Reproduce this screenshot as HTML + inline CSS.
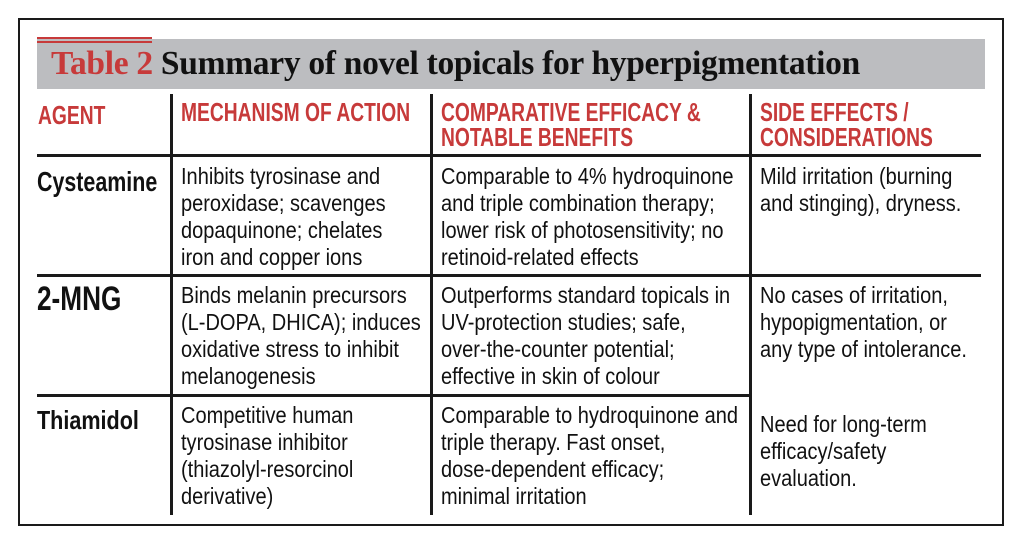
<!DOCTYPE html>
<html><head><meta charset="utf-8">
<style>
html,body{margin:0;padding:0;background:#fff;}
#page{position:relative;width:1024px;height:540px;overflow:hidden;background:#fff;}
.abs{position:absolute;}
.hl{position:absolute;background:#1a1a1a;height:3px;}
.vl{position:absolute;background:#1a1a1a;width:3px;}
.t{position:absolute;white-space:nowrap;font-family:"Liberation Sans",sans-serif;font-size:23px;line-height:27px;color:#111;transform-origin:0 0;transform:scaleX(0.87);}
.h{position:absolute;white-space:nowrap;font-family:"Liberation Sans",sans-serif;font-weight:bold;font-size:26px;line-height:25px;color:#c73a3a;transform-origin:0 0;transform:scaleX(0.74);}
.ag{position:absolute;white-space:nowrap;font-family:"Liberation Sans",sans-serif;font-weight:bold;color:#111;transform-origin:0 0;}
</style></head>
<body>
<div id="page">
  <div class="abs" style="left:18px;top:18px;width:982px;height:504px;border:2px solid #1a1a1a;"></div>
  <div class="abs" style="left:37px;top:39px;width:948px;height:50px;background:#bcbdc0;"></div>
  <div class="abs" style="left:37px;top:37px;width:115px;height:2px;background:#c73a3a;"></div>
  <div class="abs" style="left:37px;top:41px;width:115px;height:2px;background:#c73a3a;"></div>
  <div class="abs" style="left:51px;top:44px;white-space:nowrap;font-family:'Liberation Serif',serif;font-weight:bold;font-size:33.5px;line-height:40px;color:#111;letter-spacing:-0.3px;"><span style="color:#c73a3a">Table 2</span> Summary of novel topicals for hyperpigmentation</div>

  <div class="hl" style="left:37px;top:154px;width:944px;"></div>
  <div class="hl" style="left:37px;top:274px;width:944px;"></div>
  <div class="hl" style="left:37px;top:394px;width:714px;"></div>
  <div class="vl" style="left:170px;top:94px;height:421px;"></div>
  <div class="vl" style="left:430px;top:94px;height:421px;"></div>
  <div class="vl" style="left:749px;top:94px;height:421px;"></div>

  <div class="h" style="left:38px;top:103px;">AGENT</div>
  <div class="h" style="left:181px;top:100px;">MECHANISM OF ACTION</div>
  <div class="h" style="left:441px;top:100px;">COMPARATIVE EFFICACY &amp;<br>NOTABLE BENEFITS</div>
  <div class="h" style="left:760px;top:100px;">SIDE EFFECTS /<br>CONSIDERATIONS</div>

  <div class="ag" style="left:37px;top:166px;font-size:28px;line-height:32px;transform:scaleX(0.765);">Cysteamine</div>
  <div class="ag" style="left:37px;top:280px;font-size:34px;line-height:38px;transform:scaleX(0.77);">2-MNG</div>
  <div class="ag" style="left:37px;top:405px;font-size:26px;line-height:30px;transform:scaleX(0.83);">Thiamidol</div>

  <div class="t" style="left:181px;top:163px;">Inhibits tyrosinase and<br>peroxidase; scavenges<br>dopaquinone; chelates<br>iron and copper ions</div>
  <div class="t" style="left:441px;top:163px;">Comparable to 4% hydroquinone<br>and triple combination therapy;<br>lower risk of photosensitivity; no<br>retinoid-related effects</div>
  <div class="t" style="left:760px;top:163px;">Mild irritation (burning<br>and stinging), dryness.</div>

  <div class="t" style="left:181px;top:282px;">Binds melanin precursors<br>(L-DOPA, DHICA); induces<br>oxidative stress to inhibit<br>melanogenesis</div>
  <div class="t" style="left:441px;top:282px;">Outperforms standard topicals in<br>UV-protection studies; safe,<br>over-the-counter potential;<br>effective in skin of colour</div>
  <div class="t" style="left:760px;top:282px;">No cases of irritation,<br>hypopigmentation, or<br>any type of intolerance.</div>

  <div class="t" style="left:181px;top:402px;">Competitive human<br>tyrosinase inhibitor<br>(thiazolyl-resorcinol<br>derivative)</div>
  <div class="t" style="left:441px;top:402px;">Comparable to hydroquinone and<br>triple therapy. Fast onset,<br>dose-dependent efficacy;<br>minimal irritation</div>
  <div class="t" style="left:760px;top:411px;">Need for long-term<br>efficacy/safety<br>evaluation.</div>
</div>
</body></html>
